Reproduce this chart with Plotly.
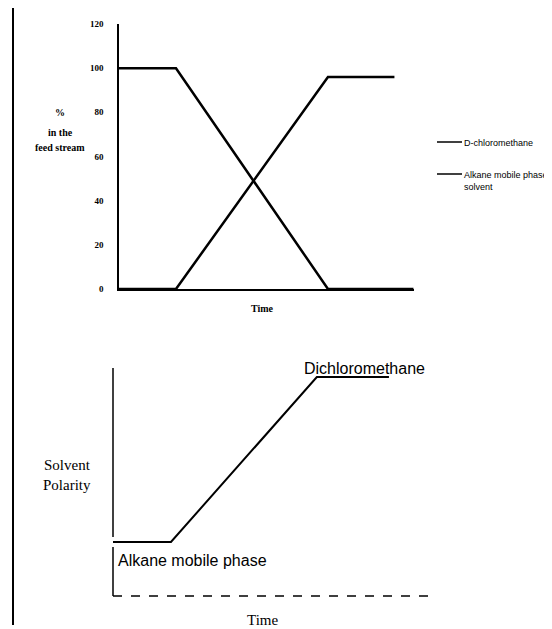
import plotly.graph_objects as go

# page body has an 8px margin; size the figure to the visible area
OFF = 8
W, H = 552 - OFF, 629 - OFF

# ---- data ----
series_names = ["D-chloromethane", "Alkane mobile phase<br>solvent"]
time_a = [0, 3, 11, 15.5]
pct_a = [100, 100, 0, 0]
time_b = [0, 3, 11, 14.5]
pct_b = [0, 0, 96, 96]
pct_ticks = [0, 20, 40, 60, 80, 100, 120]

pol_time = [0, 1.8, 6.33, 8.57]
polarity = [2.37, 2.37, 9.6, 9.6]


def px_x(p):
    return (p - OFF) / W


def px_y(p):
    return 1 - (p - OFF) / H


fig = go.Figure()
fig.add_trace(go.Scatter(x=time_a, y=pct_a, mode="lines", name=series_names[0],
                         line=dict(color="black", width=2.5), cliponaxis=False,
                         xaxis="x", yaxis="y"))
fig.add_trace(go.Scatter(x=time_b, y=pct_b, mode="lines", name=series_names[1],
                         line=dict(color="black", width=2.5), cliponaxis=False,
                         xaxis="x", yaxis="y"))
fig.add_trace(go.Scatter(x=pol_time, y=polarity, mode="lines",
                         line=dict(color="black", width=2), cliponaxis=False,
                         xaxis="x2", yaxis="y2"))

serif = "Liberation Serif"
sans = "Liberation Sans"

fig.update_layout(
    template="none",
    width=W, height=H,
    margin=dict(l=0, r=0, t=0, b=0, autoexpand=False),
    paper_bgcolor="white", plot_bgcolor="white",
    showlegend=False,
    xaxis=dict(domain=[px_x(119), px_x(414)], range=[0, 15.53], automargin=False,
               showline=True, linecolor="black", linewidth=1.5,
               showticklabels=False, showgrid=False, zeroline=False, ticks=""),
    yaxis=dict(domain=[px_y(289), px_y(24)], range=[0, 120], automargin=False,
               tickvals=pct_ticks, showline=True, linecolor="black", linewidth=1.5,
               showgrid=False, zeroline=False, ticks="", ticklabelstandoff=12,
               tickfont=dict(family=serif, size=9, color="#000000", weight="bold")),
    xaxis2=dict(domain=[px_x(113), px_x(435)], range=[0, 10], anchor="y2", automargin=False,
                showline=False, showticklabels=False, showgrid=False, zeroline=False),
    yaxis2=dict(domain=[px_y(596), px_y(368)], range=[0, 10], anchor="x2", automargin=False,
                showline=False, showticklabels=False, showgrid=False, zeroline=False),
)

# decorative lines
fig.add_shape(type="line", xref="paper", yref="paper",
              x0=px_x(13), x1=px_x(13), y0=px_y(8), y1=px_y(625),
              line=dict(color="black", width=2))
fig.add_shape(type="line", xref="x2 domain", yref="y2 domain",
              x0=0, x1=0, y0=0.259, y1=1, line=dict(color="black", width=1.5))
fig.add_shape(type="line", xref="x2 domain", yref="y2 domain",
              x0=0, x1=0, y0=0, y1=0.215, line=dict(color="black", width=1.5))
fig.add_shape(type="line", xref="x2 domain", yref="y2 domain",
              x0=0, x1=1, y0=0, y1=0, line=dict(color="black", width=1.5, dash="dash"))

# legend (keys + labels)
legend_rows = [142, 174]
for row_y, name in zip(legend_rows, series_names):
    fig.add_shape(type="line", xref="paper", yref="paper",
                  x0=px_x(437), x1=px_x(462), y0=px_y(row_y), y1=px_y(row_y),
                  line=dict(color="black", width=1.5))
    fig.add_annotation(xref="paper", yref="paper", x=px_x(462), y=px_y(row_y - 6),
                       xanchor="left", yanchor="top", align="left",
                       text=name, showarrow=False,
                       font=dict(family=sans, size=9, color="black"))

# text
def label(x, y, text, family, size, bold=False, xanchor="center"):
    fig.add_annotation(xref="paper", yref="paper", x=px_x(x), y=px_y(y),
                       xanchor=xanchor, yanchor="middle", text=text, showarrow=False,
                       font=dict(family=family, size=size, color="black",
                                 weight="bold" if bold else "normal"))

label(60, 113, "%", serif, 10, True)
label(60, 132, "in the", serif, 10, True)
label(60, 147, "feed stream", serif, 10, True)
label(262, 309, "Time", serif, 10, True)
label(67, 465, "Solvent", serif, 15)
label(67, 485, "Polarity", serif, 15)
label(262, 620, "Time", serif, 15)
label(302, 368, "Dichloromethane", sans, 16, xanchor="left")
label(116, 560, "Alkane mobile phase", sans, 16, xanchor="left")

fig.write_html("out.html")
